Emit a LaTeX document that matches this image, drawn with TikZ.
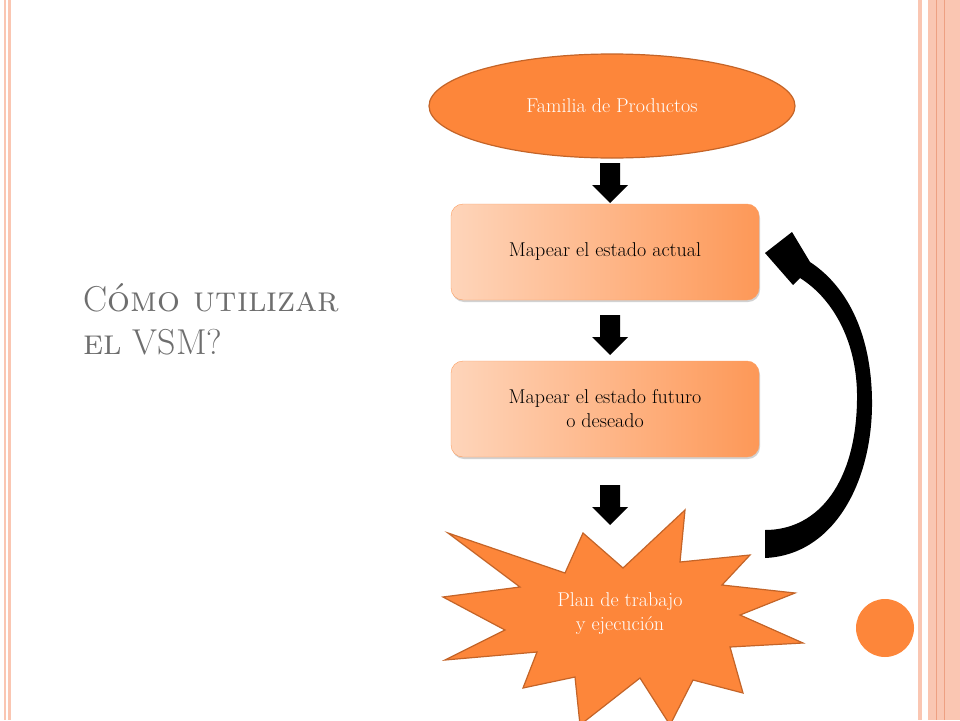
\documentclass[tikz,border=0pt]{standalone}
\usepackage{fontspec}
\usetikzlibrary{shapes.geometric,shadows}
\definecolor{org}{RGB}{253,134,58}
\definecolor{orgd}{RGB}{196,100,40}
\definecolor{salm}{RGB}{250,198,178}
\definecolor{salmd}{RGB}{238,160,130}
\definecolor{ttl}{RGB}{110,110,110}
\tikzset{
  box/.style={draw=org!80!white,rounded corners=12pt,minimum width=308pt,minimum height=96pt,left color=org!35!white,right color=org!85!white,align=center,text=black,font=\fontsize{20}{24}\selectfont,drop shadow={opacity=0.35,shadow xshift=1pt,shadow yshift=-2pt}},
  blk/.style={fill=black}
}
\newcommand{\downarr}[2]{\fill (#1-10,#2) -- (#1+10,#2) -- (#1+10,#2+22) -- (#1+18,#2+22) -- (#1,#2+40) -- (#1-18,#2+22) -- (#1-10,#2+22) -- cycle;}
\begin{document}
\begin{tikzpicture}[x=1pt,y=-1pt]
\useasboundingbox (0,0) rectangle (960,720);
\fill[white] (0,0) rectangle (960,720);
% borders
\fill[salm] (4,0) rectangle (6,720);
\fill[salm] (8,0) rectangle (11,720);
\fill[salm] (918,0) rectangle (922,720);
\fill[salm] (928,0) rectangle (960,720);
\draw[salmd,line width=0.6pt] (936,0) -- (936,720) (944,0) -- (944,720);
% title
\node[anchor=west,text=ttl,font=\fontsize{36}{42}\selectfont] (t1) at (80,298) {C\textsc{ómo utilizar}};
\node[anchor=west,text=ttl,font=\fontsize{36}{42}\selectfont] (t2) at (80,342) {\textsc{el} VSM?};
% nodes
\node[ellipse,draw=orgd,line width=1.2pt,fill=org,minimum width=366pt,minimum height=104pt,text=white,font=\fontsize{20}{24}\selectfont] (e) at (612,106) {Familia de Productos};
\node[box] (b1) at (605,252) {Mapear el estado actual};
\node[box] (b2) at (605,409) {Mapear el estado futuro\\o deseado};
\filldraw[fill=org,draw=orgd,line width=1.2pt,line join=miter] (448,533) -- (565,573) -- (583,533) -- (623,568) -- (685,510) -- (680,562) -- (750,555) -- (722,585) -- (795,593) -- (740,615) -- (803,643) -- (730,647) -- (743,693) -- (693,680) -- (670,725) -- (640,678) -- (580,725) -- (575,677) -- (523,688) -- (537,652) -- (445,660) -- (505,630) -- (443,597) -- (520,587) -- cycle;
\node[align=center,text=white,font=\fontsize{20}{24}\selectfont] (p) at (620,614) {Plan de trabajo\\y ejecución};
% down arrows
\downarr{610}{163}
\downarr{610}{315}
\downarr{610}{485}
% curved arrow
\fill (765,558) .. controls (835,555) and (873,480) .. (872,400) .. controls (871,330) and (845,285) .. (810,262) -- (792,232) -- (765,253) -- (793,285) -- (800,278) .. controls (835,300) and (858,345) .. (857,400) .. controls (856,480) and (820,530) .. (765,530) -- cycle;
% dot
\fill[org] (885,628) circle (29);
\end{tikzpicture}
\end{document}
